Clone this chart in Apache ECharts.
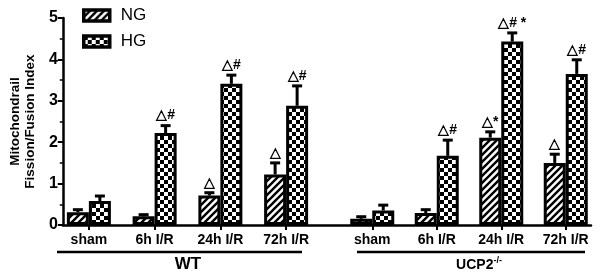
<!DOCTYPE html>
<html>
<head>
<meta charset="utf-8">
<script src="https://cdn.jsdelivr.net/npm/echarts@6/dist/echarts.min.js"></script>
<style>
  html, body { margin: 0; padding: 0; background: #fff; }
  #chart { width: 601px; height: 276px; }
</style>
</head>
<body>
<div id="chart"></div>
<script>
// groups
const categories = ["sham", "6h I/R", "24h I/R", "72h I/R"];
const yTicks = [0, 1, 2, 3, 4, 5];

// WT
const wtNG = [0.31, 0.21, 0.71, 1.22];
const wtNGErr = [0.06, 0.04, 0.07, 0.28];
const wtHG = [0.58, 2.22, 3.41, 2.88];
const wtHGErr = [0.12, 0.18, 0.21, 0.48];
const wtNGMark = ["", "", "△", "△"];
const wtHGMark = ["", "△#", "△#", "△#"];

// UCP2-/-
const koNG = [0.15, 0.29, 2.11, 1.50];
const koNGErr = [0.05, 0.08, 0.14, 0.21];
const koHG = [0.35, 1.67, 4.43, 3.65];
const koHGErr = [0.13, 0.38, 0.21, 0.34];
const koNGMark = ["", "", "△*", "△"];
const koHGMark = ["", "△#", "△# *", "△#"];

const FONT = "Liberation Sans, Arial, sans-serif";
const BAR_W = 22;

// fill patterns
function hatchPattern() {
  const c = document.createElement("canvas");
  c.width = 7; c.height = 7;
  const ctx = c.getContext("2d");
  ctx.fillStyle = "#fff";
  ctx.fillRect(0, 0, 7, 7);
  ctx.strokeStyle = "#000";
  ctx.lineWidth = 2.4;
  ctx.beginPath();
  ctx.moveTo(-1, 8); ctx.lineTo(8, -1);
  ctx.moveTo(-4, 4); ctx.lineTo(4, -4);
  ctx.moveTo(3, 11); ctx.lineTo(11, 3);
  ctx.stroke();
  return c;
}
function checkerPattern() {
  const c = document.createElement("canvas");
  c.width = 8; c.height = 8;
  const ctx = c.getContext("2d");
  ctx.fillStyle = "#fff";
  ctx.fillRect(0, 0, 8, 8);
  ctx.fillStyle = "#000";
  ctx.fillRect(0, 0, 4, 4);
  ctx.fillRect(4, 4, 4, 4);
  return c;
}
const ngFill = { image: hatchPattern(), repeat: "repeat" };
const hgFill = { image: checkerPattern(), repeat: "repeat" };

function barSeries(name, data, fill, idx) {
  return {
    name: name,
    type: "bar",
    xAxisIndex: idx,
    yAxisIndex: idx,
    data: data,
    barWidth: BAR_W,
    barGap: "0%",
    itemStyle: { color: fill, borderColor: "#000", borderWidth: 3 }
  };
}

// upward error bar + significance marks; side -1 = NG, +1 = HG
function errSeries(vals, errs, marks, side, idx) {
  return {
    type: "custom",
    xAxisIndex: idx,
    yAxisIndex: idx,
    z: 3,
    silent: true,
    data: vals.map((v, i) => [i, v, v + errs[i]]),
    renderItem: function (params, api) {
      const i = api.value(0);
      const base = api.coord([i, api.value(1)]);
      const top = api.coord([i, api.value(2)]);
      const x = base[0] + side * BAR_W / 2;
      const children = [
        {
          type: "line",
          shape: { x1: x, y1: base[1], x2: x, y2: top[1] },
          style: { stroke: "#000", lineWidth: 3 }
        },
        {
          type: "line",
          shape: { x1: x - 5, y1: top[1], x2: x + 5, y2: top[1] },
          style: { stroke: "#000", lineWidth: 3 }
        }
      ];
      if (marks[i]) {
        children.push({
          type: "text",
          style: {
            text: marks[i],
            x: x,
            y: top[1] - 3,
            align: "center",
            verticalAlign: "bottom",
            fill: "#000",
            font: "bold 14px " + FONT
          }
        });
      }
      return { type: "group", children: children };
    }
  };
}

function catAxis(idx) {
  return {
    type: "category",
    gridIndex: idx,
    data: categories,
    axisLine: { show: false },
    axisTick: { show: true, alignWithLabel: true, length: 5, lineStyle: { color: "#000", width: 2 } },
    axisLabel: { color: "#000", fontFamily: FONT, fontWeight: "bold", fontSize: 14, margin: 8 },
    splitLine: { show: false }
  };
}
function hiddenY(idx) {
  return { type: "value", gridIndex: idx, min: 0, max: 5, show: false };
}

const chart = echarts.init(document.getElementById("chart"));
chart.setOption({
  animation: false,
  backgroundColor: "#fff",
  legend: {
    data: ["NG", "HG"],
    orient: "vertical",
    left: 77,
    top: 2,
    icon: "rect",
    itemWidth: 26,
    itemHeight: 11,
    itemGap: 9,
    itemStyle: { borderColor: "#000", borderWidth: 3.5 },
    textStyle: { color: "#000", fontFamily: FONT, fontSize: 17, lineHeight: 16, padding: [0, 0, 0, 6] }
  },
  grid: [
    { left: 56, right: 282, top: 18, bottom: 51 },
    { left: 340, right: 3, top: 18, bottom: 51 },
    { left: 52, right: 10, top: 18, bottom: 51 }
  ],
  xAxis: [
    catAxis(0),
    catAxis(1),
    {
      type: "value", gridIndex: 2, min: 0, max: 1,
      axisLine: { show: true, lineStyle: { color: "#000", width: 2.5 } },
      axisTick: { show: false }, axisLabel: { show: false }, splitLine: { show: false }
    }
  ],
  yAxis: [
    hiddenY(0),
    hiddenY(1),
    {
      type: "value", gridIndex: 2, min: yTicks[0], max: yTicks[yTicks.length - 1], interval: 1,
      name: "Mitochondrail\nFission/Fusion Index",
      nameLocation: "middle",
      nameRotate: 90,
      nameGap: 24,
      nameTextStyle: { color: "#000", fontFamily: FONT, fontWeight: "bold", fontSize: 13.5, lineHeight: 15 },
      axisLine: { show: true, lineStyle: { color: "#000", width: 2.5 } },
      axisTick: { show: true, length: 5, lineStyle: { color: "#000", width: 2 } },
      minorTick: { show: true, splitNumber: 2, length: 3, lineStyle: { color: "#000", width: 1.5 } },
      axisLabel: { color: "#000", fontFamily: FONT, fontWeight: "bold", fontSize: 16, margin: 5 },
      splitLine: { show: false }
    }
  ],
  series: [
    barSeries("NG", wtNG, ngFill, 0),
    barSeries("HG", wtHG, hgFill, 0),
    barSeries("NG", koNG, ngFill, 1),
    barSeries("HG", koHG, hgFill, 1),
    errSeries(wtNG, wtNGErr, wtNGMark, -1, 0),
    errSeries(wtHG, wtHGErr, wtHGMark, 1, 0),
    errSeries(koNG, koNGErr, koNGMark, -1, 1),
    errSeries(koHG, koHGErr, koHGMark, 1, 1)
  ],
  graphic: [
    { type: "line", shape: { x1: 57, y1: 252, x2: 302, y2: 252 }, style: { stroke: "#000", lineWidth: 2.5 } },
    { type: "line", shape: { x1: 357, y1: 252, x2: 585, y2: 252 }, style: { stroke: "#000", lineWidth: 2.5 } },
    {
      type: "text", x: 188, y: 264,
      style: { text: "WT", align: "center", verticalAlign: "middle", fill: "#000", font: "bold 17px " + FONT }
    },
    {
      type: "text", x: 479, y: 265,
      style: {
        text: "{b|UCP2}{s|-/-}",
        align: "center", verticalAlign: "middle",
        rich: {
          b: { fontFamily: FONT, fontWeight: "bold", fontSize: 14, fill: "#000" },
          s: { fontFamily: FONT, fontWeight: "bold", fontSize: 9, fill: "#000", verticalAlign: "top", padding: [0, 0, 8, 0] }
        }
      }
    }
  ]
});
</script>
</body>
</html>
